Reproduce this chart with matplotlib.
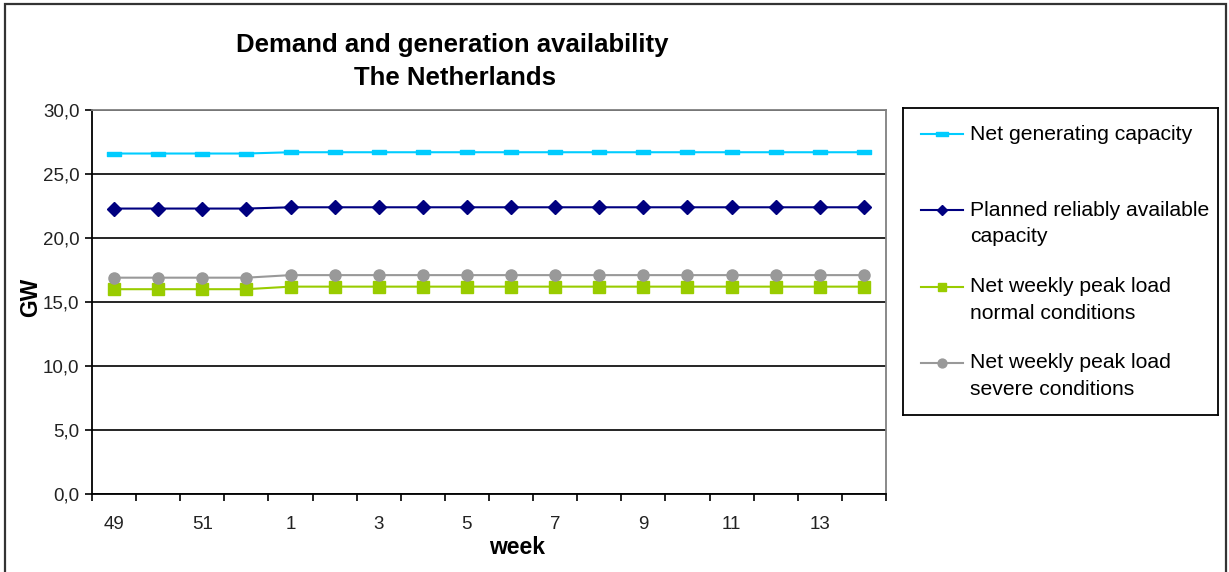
import matplotlib
matplotlib.use("Agg")
import matplotlib.pyplot as plt
from matplotlib.lines import Line2D
from matplotlib.patches import Rectangle
from matplotlib.path import Path
from matplotlib.ticker import FixedLocator, FuncFormatter

plt.rcParams['font.family'] = ['Liberation Sans', 'DejaVu Sans']

# Weeks 49-52 of one year followed by weeks 1-14 of the next
weeks = [49, 50, 51, 52, 1, 2, 3, 4, 5, 6, 7, 8, 9, 10, 11, 12, 13, 14]

net_generating_capacity = [26.6, 26.6, 26.6, 26.6, 26.7, 26.7, 26.7, 26.7, 26.7,
                           26.7, 26.7, 26.7, 26.7, 26.7, 26.7, 26.7, 26.7, 26.7]
reliably_available = [22.3, 22.3, 22.3, 22.3, 22.4, 22.4, 22.4, 22.4, 22.4,
                      22.4, 22.4, 22.4, 22.4, 22.4, 22.4, 22.4, 22.4, 22.4]
peak_load_normal = [16.0, 16.0, 16.0, 16.0, 16.2, 16.2, 16.2, 16.2, 16.2,
                    16.2, 16.2, 16.2, 16.2, 16.2, 16.2, 16.2, 16.2, 16.2]
peak_load_severe = [16.9, 16.9, 16.9, 16.9, 17.1, 17.1, 17.1, 17.1, 17.1,
                    17.1, 17.1, 17.1, 17.1, 17.1, 17.1, 17.1, 17.1, 17.1]

series_labels = [
    "Net generating capacity",
    "Planned reliably available\ncapacity",
    "Net weekly peak load\nnormal conditions",
    "Net weekly peak load\nsevere conditions",
]

# Wide flat bar used as the "dash" marker
dash = Path([(-1.6, -0.5), (1.6, -0.5), (1.6, 0.5), (-1.6, 0.5), (-1.6, -0.5)],
            [Path.MOVETO, Path.LINETO, Path.LINETO, Path.LINETO, Path.CLOSEPOLY])

styles = [
    dict(color="#00CCFF", marker=dash, markersize=10),
    dict(color="#000080", marker="D", markersize=7),
    dict(color="#99CC00", marker="s", markersize=8),
    dict(color="#999999", marker="o", markersize=8),
]
series = [net_generating_capacity, reliably_available, peak_load_normal, peak_load_severe]

W, H = 1229, 572
fig = plt.figure(figsize=(W / 100, H / 100), dpi=100)

# Outer chart frame
fig.add_artist(Rectangle((5 / W, -0.05), 1221 / W, 1.05 - 4 / H,
                         transform=fig.transFigure, fill=False,
                         edgecolor="#333333", linewidth=1.6))

ax = fig.add_axes([92 / W, 1 - 494 / H, (886 - 92) / W, (494 - 110) / H])
x = list(range(len(weeks)))

for values, st in zip(series, styles):
    ax.plot(x, values, color=st["color"], linewidth=1.5, marker=st["marker"],
            markersize=st["markersize"], markerfacecolor=st["color"],
            markeredgecolor=st["color"], zorder=3)

ax.set_xlim(-0.5, len(weeks) - 0.5)
ax.set_ylim(0, 30)
ax.set_yticks([0, 5, 10, 15, 20, 25, 30])
ax.yaxis.set_major_formatter(FuncFormatter(lambda v, p: f"{v:.1f}".replace(".", ",")))
ax.grid(axis="y", color="black", linewidth=1.2)
ax.set_axisbelow(True)

# Tick marks between categories, labels on every second week
ax.xaxis.set_major_locator(FixedLocator([i - 0.5 for i in range(len(weeks) + 1)]))
ax.xaxis.set_major_formatter(FuncFormatter(lambda v, p: ""))
ax.xaxis.set_minor_locator(FixedLocator(x[::2]))
ax.set_xticklabels([str(w) for w in weeks[::2]], minor=True)
ax.tick_params(axis="x", which="minor", length=0, pad=16, labelsize=13.5,
               labelcolor="#222222")
ax.tick_params(axis="x", which="major", length=5, width=1.2, direction="out")
ax.tick_params(axis="y", length=5, width=1.2, direction="out", labelsize=13.5,
               pad=4, labelcolor="#222222")

for side in ("left", "bottom"):
    ax.spines[side].set_color("black")
    ax.spines[side].set_linewidth(1.3)
for side in ("top", "right"):
    ax.spines[side].set_color("#808080")
    ax.spines[side].set_linewidth(1.3)

fig.text(517 / W, 1 - 548 / H, "week", ha="center", va="center",
         fontsize=16.5, fontweight="bold")
fig.text(31 / W, 1 - 297 / H, "GW", ha="center", va="center", rotation=90,
         fontsize=16.5, fontweight="bold")

fig.text(452 / W, 1 - 45 / H, "Demand and generation availability",
         ha="center", va="center", fontsize=18.5, fontweight="bold")
fig.text(455 / W, 1 - 78 / H, "The Netherlands",
         ha="center", va="center", fontsize=18.5, fontweight="bold")

# Legend panel, laid out in pixel units
lax = fig.add_axes([903 / W, 1 - 415 / H, (1218 - 903) / W, (415 - 108) / H])
lax.set_xlim(903, 1218)
lax.set_ylim(415, 108)
lax.set_xticks([])
lax.set_yticks([])
for s in lax.spines.values():
    s.set_color("black")
    s.set_linewidth(1.3)

entry_y = [134, 210, 287, 363]
for y, lab, st in zip(entry_y, series_labels, styles):
    lax.add_line(Line2D([921, 963], [y, y], color=st["color"], linewidth=1.5))
    lax.add_line(Line2D([942], [y], color=st["color"], marker=st["marker"],
                        markersize=st["markersize"] * 0.8,
                        markerfacecolor=st["color"], markeredgecolor=st["color"]))
    lax.text(970, y, lab.split("\n")[0], ha="left", va="center", fontsize=15.2)
    if "\n" in lab:
        lax.text(970, y + 26.5, lab.split("\n")[1], ha="left", va="center",
                 fontsize=15.2)

fig.savefig("out.png", dpi=100, facecolor="white")
